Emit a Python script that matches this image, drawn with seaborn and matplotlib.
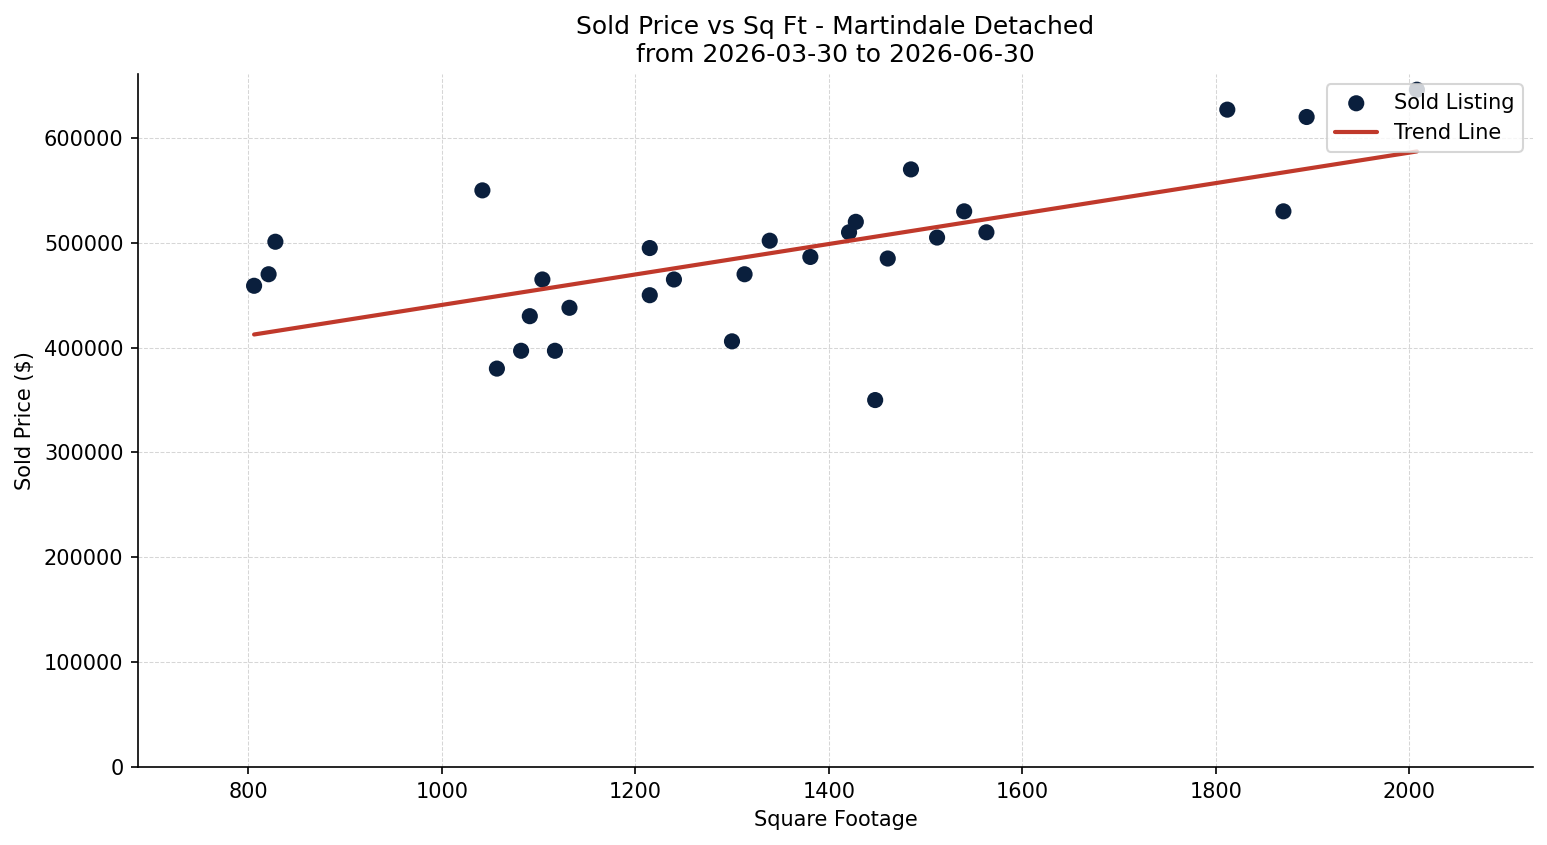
import numpy as np
import pandas as pd
import matplotlib
matplotlib.use("Agg")
import matplotlib.pyplot as plt
import seaborn as sns

sqft = [806, 821, 828, 1042, 1057, 1082, 1091, 1104, 1117, 1132, 1215, 1215,
        1240, 1300, 1313, 1339, 1381, 1421, 1428, 1448, 1461, 1485, 1512, 1540,
        1563, 1812, 1870, 1894, 2008]
price = [459000, 470000, 501000, 550000, 380000, 397000, 430000, 465000, 397000,
         438000, 495000, 450000, 465000, 406000, 470000, 502000, 486500, 510000,
         520000, 350000, 485000, 570000, 505000, 530000, 510000, 627000, 530000,
         620000, 646000]

title = "Sold Price vs Sq Ft - Martindale Detached\nfrom 2026-03-30 to 2026-06-30"

sns.set_style("ticks", rc={"text.color": "black", "axes.labelcolor": "black",
                           "xtick.color": "black", "ytick.color": "black",
                           "axes.edgecolor": "black"})
plt.rcParams['font.family'] = ['DejaVu Sans']

df = pd.DataFrame({"sqft": sqft, "price": price})

fig = plt.figure(figsize=(1547/150, 845/150), dpi=150)
ax = fig.add_axes([138/1547, 1-767/845, (1533-138)/1547, (767-74)/845])

sns.scatterplot(data=df, x="sqft", y="price", ax=ax, color="#0a1f3d", s=60,
                edgecolor="none", label="Sold Listing", zorder=3)

coef = np.polyfit(df["sqft"], df["price"], 1)
xs = np.array([df["sqft"].min(), df["sqft"].max()])
line_df = pd.DataFrame({"sqft": xs, "price": np.polyval(coef, xs)})
sns.lineplot(data=line_df, x="sqft", y="price", ax=ax, color="#c0392b",
             linewidth=2, label="Trend Line", zorder=4)

ax.set_xlim(df["sqft"].min() - 120, df["sqft"].max() + 120)
ax.set_ylim(0, 661000)
ax.set_yticks(range(0, 600001, 100000))
ax.grid(True, linestyle="--", linewidth=0.5, color="#cccccc", alpha=0.8)
ax.set_axisbelow(True)
sns.despine(ax=ax)
ax.set_xlabel("Square Footage", fontsize=10)
ax.set_ylabel("Sold Price ($)", fontsize=10)
ax.set_title(title, fontsize=12)
ax.tick_params(labelsize=10)
ax.legend(loc="upper right", fontsize=10)

fig.savefig("out.png", dpi=150)
